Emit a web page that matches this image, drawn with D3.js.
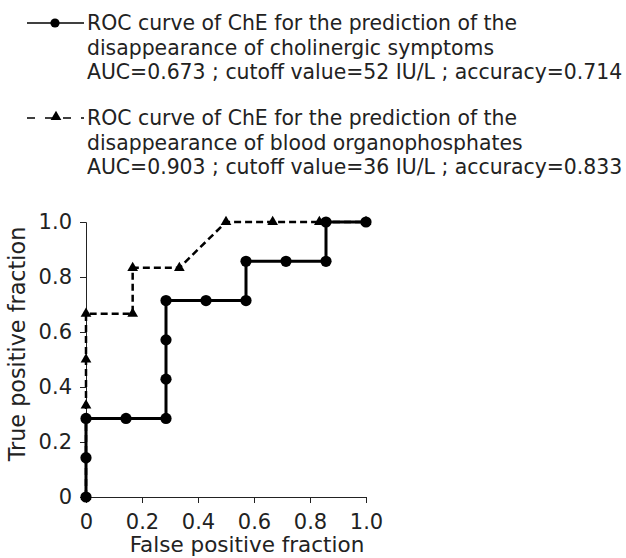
<!DOCTYPE html>
<html>
<head>
<meta charset="utf-8">
<script src="https://cdn.jsdelivr.net/npm/d3@7"></script>
<style>
  body { margin: 0; background: #fff; }
  text { font-family: "DejaVu Sans", sans-serif; fill: #222; }
</style>
</head>
<body>
<div id="chart"></div>
<script>
// ROC curve data (false positive fraction, true positive fraction)
const symptomsFpf = [0, 0, 0, 1/7, 2/7, 2/7, 2/7, 2/7, 3/7, 4/7, 4/7, 5/7, 6/7, 6/7, 1];
const symptomsTpf = [0, 1/7, 2/7, 2/7, 2/7, 3/7, 4/7, 5/7, 5/7, 5/7, 6/7, 6/7, 6/7, 1, 1];

const opFpf = [0, 0, 0, 0, 1/6, 1/6, 2/6, 3/6, 4/6, 5/6, 1];
const opTpf = [0, 2/6, 3/6, 4/6, 4/6, 5/6, 5/6, 1, 1, 1, 1];

const xTicks = [0, 0.2, 0.4, 0.6, 0.8, 1.0];
const yTicks = [0, 0.2, 0.4, 0.6, 0.8, 1.0];

const legendLines = [
    ["ROC curve of ChE for the prediction of the",
     "disappearance of cholinergic symptoms",
     "AUC=0.673 ; cutoff value=52 IU/L ; accuracy=0.714"],
    ["ROC curve of ChE for the prediction of the",
     "disappearance of blood organophosphates",
     "AUC=0.903 ; cutoff value=36 IU/L ; accuracy=0.833"]
];

const width = 626, height = 558;
const svg = d3.select("#chart").append("svg")
    .attr("width", width)
    .attr("height", height);

const x = d3.scaleLinear().domain([0, 1]).range([86, 366]);
const y = d3.scaleLinear().domain([0, 1]).range([497, 222]);

const fmt = d => d === 0 ? "0" : d3.format(".1f")(d);

// axes
svg.append("g")
    .attr("transform", `translate(0,${y(0)})`)
    .call(d3.axisBottom(x).tickValues(xTicks).tickFormat(fmt).tickSizeOuter(0).tickSize(6).tickPadding(11))
    .call(g => g.selectAll("text").style("font-size", "21px").attr("fill", "#222"))
    .call(g => g.selectAll("line, path").attr("stroke", "#222"));

svg.append("g")
    .attr("transform", `translate(${x(0)},0)`)
    .call(d3.axisLeft(y).tickValues(yTicks).tickFormat(fmt).tickSizeOuter(0).tickSize(6).tickPadding(8))
    .call(g => g.selectAll("text").style("font-size", "21px").attr("fill", "#222"))
    .call(g => g.selectAll("line, path").attr("stroke", "#222"));

svg.append("text")
    .attr("x", 247).attr("y", 544)
    .attr("dy", "0.36em")
    .attr("text-anchor", "middle")
    .style("font-size", "21.5px")
    .text("False positive fraction");

svg.append("text")
    .attr("transform", `translate(16.5,344) rotate(-90)`)
    .attr("dy", "0.36em")
    .attr("text-anchor", "middle")
    .style("font-size", "22.3px")
    .text("True positive fraction");

// curves
const symptoms = symptomsFpf.map((f, i) => [f, symptomsTpf[i]]);
const op = opFpf.map((f, i) => [f, opTpf[i]]);
const line = d3.line().x(d => x(d[0])).y(d => y(d[1]));
const tri = d3.symbol().type(d3.symbolTriangle).size(50);

svg.append("path")
    .datum(op)
    .attr("d", line)
    .attr("fill", "none")
    .attr("stroke", "#000")
    .attr("stroke-width", 2.5)
    .attr("stroke-dasharray", "7,4");

svg.append("g").selectAll("path")
    .data(op)
    .join("path")
    .attr("d", tri)
    .attr("transform", d => `translate(${x(d[0])},${y(d[1])})`)
    .attr("fill", "#000");

svg.append("path")
    .datum(symptoms)
    .attr("d", line)
    .attr("fill", "none")
    .attr("stroke", "#000")
    .attr("stroke-width", 3);

svg.append("g").selectAll("circle")
    .data(symptoms)
    .join("circle")
    .attr("cx", d => x(d[0]))
    .attr("cy", d => y(d[1]))
    .attr("r", 5.6)
    .attr("fill", "#000");

// legend
const legendTop = [23, 118];
legendLines.forEach((lines, k) => {
    const ly = legendTop[k];
    const g = svg.append("g");
    if (k === 0) {
        g.append("line").attr("x1", 27).attr("x2", 84).attr("y1", ly).attr("y2", ly)
            .attr("stroke", "#000").attr("stroke-width", 1.7);
        g.append("circle").attr("cx", 55).attr("cy", ly).attr("r", 4.6).attr("fill", "#000");
    } else {
        g.append("line").attr("x1", 27).attr("x2", 84).attr("y1", ly).attr("y2", ly)
            .attr("stroke", "#000").attr("stroke-width", 1.7)
            .attr("stroke-dasharray", "8,10");
        g.append("path").attr("d", d3.symbol().type(d3.symbolTriangle).size(50))
            .attr("transform", `translate(56,${ly - 1})`).attr("fill", "#000");
    }
    lines.forEach((t, i) => {
        g.append("text")
            .attr("x", 87)
            .attr("y", ly + i * 24.5)
            .attr("dy", "0.36em")
            .style("font-size", "20.4px")
            .text(t);
    });
});
</script>
</body>
</html>
